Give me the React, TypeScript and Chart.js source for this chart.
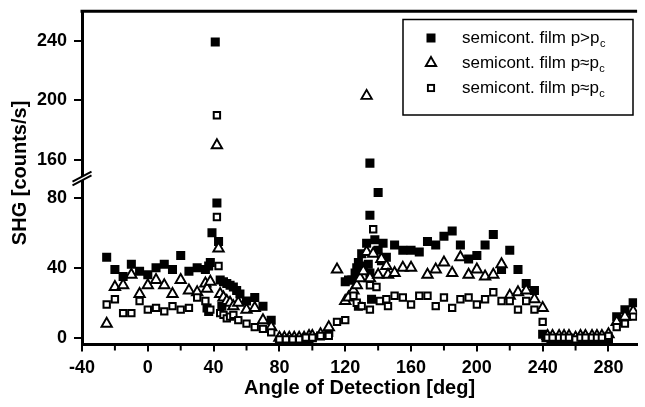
import React, { useEffect, useRef } from 'react';
import { Chart, registerables } from 'chart.js';

Chart.register(...registerables);

const FONT = '"Liberation Sans", Arial, Helvetica, sans-serif';

// ---- axis ticks ----
const xTicks = [-40, 0, 40, 80, 120, 160, 200, 240, 280];
const xMinorTicks = [-20, 20, 60, 100, 140, 180, 220, 260];
const yLowTicks = [0, 40, 80];
const yHighTicks = [160, 200, 240];
const BREAK_AT = 120; // values above the break are drawn on the upper axis segment

// ---- legend ----
const legendLabels = ['semicont. film p>p', 'semicont. film p\u2248p', 'semicont. film p\u2248p'];
const legendSub = 'c';

// ---- series: semicont. film p>pc (filled squares) ----
const filledAngles = [
  -25, -20, -15, -10, -5, 0, 5, 10, 15, 20, 25, 30, 35, 36, 37, 37, 38, 39, 41, 42, 43, 44, 45, 46, 48, 50,
  52, 54, 56, 60, 65, 70, 75, 80, 82, 84, 86, 88, 90, 92, 95, 98, 100, 105, 110, 120, 122, 124, 126, 127,
  128, 128, 130, 131, 133, 134, 135, 135, 135, 136, 138, 140, 140, 142, 143, 145, 150, 155, 160, 165, 170,
  175, 180, 185, 190, 195, 200, 205, 210, 215, 220, 225, 230, 235, 240, 242, 245, 248, 250, 253, 255, 258,
  260, 263, 265, 268, 270, 273, 275, 278, 280, 285, 290, 295,
];
const filledSHG = [
  46, 39, 35, 42, 38, 36, 40, 42, 39, 47, 38, 40, 39, 17, 41, 15, 43, 60, 239, 77, 55, 33, 18, 32, 31, 30,
  29, 27, 25, 21, 23, 18, 10, -2, -1, -2, -1, -2, -1, -1, -1, -1, 0, 1, 3, 32, 33, 33, 37, 40,
  43, 18, 48, 41, 54, 42, 37, 70, 158, 22, 56, 83, 50, 44, 54, 46, 53, 50, 50, 49, 55,
  53, 58, 61, 53, 45, 47, 53, 59, 39, 50, 39, 31, 27, 2, 0, -1, -1, -1, -1, -1, -1,
  -2, -1, -1, -1, -2, -1, -1, -1, -1, 12, 16, 20,
];

// ---- series: semicont. film p≈pc (open triangles) ----
const triAngles = [
  -25, -20, -15, -10, -5, 0, 5, 10, 15, 20, 25, 30, 35, 36, 38, 42, 43, 44, 46, 48, 50, 52, 55, 60, 65, 70,
  75, 80, 83, 86, 89, 92, 95, 98, 100, 105, 110, 115, 120, 122, 125, 127, 129, 131, 133, 133, 135, 137,
  140, 142, 145, 146, 150, 155, 160, 170, 175, 180, 185, 190, 195, 200, 205, 210, 215, 220, 225, 230, 235,
  240, 243, 246, 250, 253, 256, 260, 263, 266, 270, 273, 276, 280, 285, 290, 295,
];
const triSHG = [
  8, 29, 30, 36, 25, 30, 33, 30, 25, 33, 27, 26, 31, 28, 32, 170, 51, 25, 23, 21, 20, 18, 20, 16, 17, 10,
  6, 0, 0, 0, 0, 0, 0, 1, 1, 2, 6, 39, 21, 23, 27, 30, 34, 38, 49, 203, 34, 48,
  36, 45, 41, 36, 37, 40, 40, 36, 39, 43, 37, 46, 36, 39, 35, 36, 42, 24, 26, 27, 22,
  17, 1, 1, 1, 1, 1, 0, 1, 1, 1, 1, 1, 2, 9, 12, 15,
];

// ---- series: semicont. film p≈pc (open squares) ----
const openAngles = [
  -25, -20, -15, -10, -5, 0, 5, 10, 15, 20, 25, 30, 35, 38, 42, 42, 43, 44, 46, 48, 50, 52, 55, 60, 65, 70,
  75, 80, 84, 88, 92, 96, 100, 105, 110, 115, 120, 125, 127, 130, 135, 135, 137, 139, 141, 145, 146, 150,
  155, 160, 165, 170, 175, 180, 185, 190, 195, 200, 205, 210, 215, 220, 225, 230, 235, 240, 243, 246, 250,
  253, 256, 260, 263, 266, 270, 273, 276, 280, 285, 290, 295,
];
const openSHG = [
  19, 22, 14, 14, 21, 16, 17, 15, 18, 16, 17, 23, 21, 16, 190, 69, 41, 14, 13, 11, 12, 13, 10, 8, 6, 5,
  3, -1, -1, -1, -1, 0, 0, 1, 1, 9, 10, 24, 20, 18, 16, 30, 62, 29, 21, 22, 18, 24,
  23, 19, 24, 24, 18, 23, 17, 22, 23, 19, 22, 26, 21, 21, 16, 21, 16, 9, 0, 0, 0,
  0, 0, -1, 0, 0, 0, 0, 0, 1, 6, 8, 12,
];

const split = (xs: number[], ys: number[], high: boolean) =>
  xs
    .map((x, i) => ({ x, y: ys[i] }))
    .filter((p) => (high ? p.y > BREAK_AT : p.y <= BREAK_AT));

const decorPlugin = {
  id: 'decor',
  afterDraw(chart: any) {
    const ctx = chart.ctx as CanvasRenderingContext2D;
    const area = chart.chartArea;
    const xs = chart.scales.x;
    const yLow = chart.scales.y;
    ctx.save();
    ctx.strokeStyle = '#000';
    ctx.fillStyle = '#000';

    // top frame line
    ctx.lineWidth = 3;
    ctx.beginPath();
    ctx.moveTo(area.left - 1.5, area.top);
    ctx.lineTo(area.right, area.top);
    ctx.stroke();

    // minor x ticks
    ctx.lineWidth = 2;
    xMinorTicks.forEach((v) => {
      const px = xs.getPixelForValue(v);
      ctx.beginPath();
      ctx.moveTo(px, area.bottom + 1.5);
      ctx.lineTo(px, area.bottom + 6);
      ctx.stroke();
    });

    // axis break marks
    const cx = area.left;
    const cy = yLow.top;
    const dx = 9.5;
    const dy = 5;
    const g = 1.9;
    ctx.fillStyle = '#fff';
    ctx.beginPath();
    ctx.moveTo(cx - dx, cy - g + dy);
    ctx.lineTo(cx + dx, cy - g - dy);
    ctx.lineTo(cx + dx, cy + g - dy);
    ctx.lineTo(cx - dx, cy + g + dy);
    ctx.closePath();
    ctx.fill();
    ctx.lineWidth = 2;
    [-g, g].forEach((o) => {
      ctx.beginPath();
      ctx.moveTo(cx - dx, cy + o + dy);
      ctx.lineTo(cx + dx, cy + o - dy);
      ctx.stroke();
    });

    // y axis title
    ctx.fillStyle = '#000';
    ctx.save();
    ctx.translate(20, (area.top + area.bottom) / 2 - 5);
    ctx.rotate(-Math.PI / 2);
    ctx.textAlign = 'center';
    ctx.textBaseline = 'middle';
    ctx.font = `bold 20px ${FONT}`;
    ctx.fillText('SHG [counts/s]', 0, 0);
    ctx.restore();

    // legend box
    const bx = 403;
    const by = 19.5;
    const bw = 230;
    const bh = 95.5;
    ctx.fillStyle = '#fff';
    ctx.fillRect(bx, by, bw, bh);
    ctx.lineWidth = 1.5;
    ctx.strokeRect(bx, by, bw, bh);
    const rows = [38, 63, 88];
    const mx = 431;
    rows.forEach((ry, i) => {
      ctx.fillStyle = '#000';
      ctx.lineWidth = 1.9;
      if (i === 0) {
        ctx.fillRect(mx - 4.5, ry - 4.5, 9, 9);
      } else if (i === 1) {
        const r = 6;
        ctx.fillStyle = '#fff';
        ctx.beginPath();
        ctx.moveTo(mx, ry - r);
        ctx.lineTo(mx + r * 0.866, ry + r * 0.5);
        ctx.lineTo(mx - r * 0.866, ry + r * 0.5);
        ctx.closePath();
        ctx.fill();
        ctx.stroke();
      } else {
        ctx.fillStyle = '#fff';
        ctx.fillRect(mx - 3.1, ry - 3.1, 6.2, 6.2);
        ctx.strokeRect(mx - 3.1, ry - 3.1, 6.2, 6.2);
      }
      ctx.fillStyle = '#000';
      ctx.font = `17px ${FONT}`;
      ctx.textAlign = 'left';
      ctx.textBaseline = 'middle';
      const tx = 462;
      ctx.fillText(legendLabels[i], tx, ry);
      const w = ctx.measureText(legendLabels[i]).width;
      ctx.font = `11px ${FONT}`;
      ctx.fillText(legendSub, tx + w + 0.5, ry + 6);
    });
    ctx.restore();
  },
};

const tickFont = { family: FONT, size: 18, weight: 'bold' as const };

const yAxis = (min: number, max: number, weight: number, ticks: number[]) => ({
  type: 'linear' as const,
  position: 'left' as const,
  stack: 'shg',
  stackWeight: weight,
  min,
  max,
  afterBuildTicks: (s: any) => {
    s.ticks = ticks.map((v) => ({ value: v }));
  },
  afterFit: (s: any) => {
    s.width = 82;
    s.paddingTop = 0;
    s.paddingBottom = 0;
  },
  border: { display: true, color: '#000', width: 3 },
  grid: { display: true, drawOnChartArea: false, drawTicks: true, tickLength: 8, color: '#000', lineWidth: 2 },
  ticks: { color: '#000', font: tickFont, padding: 7 },
});

export default function App() {
  const ref = useRef<HTMLCanvasElement | null>(null);

  useEffect(() => {
    if (!ref.current) return;
    const filledStyle = {
      pointStyle: 'rect',
      pointRadius: 6.4,
      pointHoverRadius: 6.4,
      backgroundColor: '#000',
      borderColor: '#000',
      borderWidth: 0,
      order: 3,
    };
    const triStyle = {
      pointStyle: 'triangle',
      pointRadius: 6.0,
      pointHoverRadius: 6.0,
      backgroundColor: '#fff',
      borderColor: '#000',
      borderWidth: 1.9,
      order: 2,
    };
    const openStyle = {
      pointStyle: 'rect',
      pointRadius: 4.5,
      pointHoverRadius: 4.5,
      backgroundColor: '#fff',
      borderColor: '#000',
      borderWidth: 2,
      order: 1,
    };
    const chart = new Chart(ref.current, {
      type: 'scatter',
      data: {
        datasets: [
          { label: legendLabels[0], data: split(filledAngles, filledSHG, false), yAxisID: 'y', ...filledStyle },
          { label: legendLabels[0], data: split(filledAngles, filledSHG, true), yAxisID: 'yTop', ...filledStyle },
          { label: legendLabels[1], data: split(triAngles, triSHG, false), yAxisID: 'y', ...triStyle },
          { label: legendLabels[1], data: split(triAngles, triSHG, true), yAxisID: 'yTop', ...triStyle },
          { label: legendLabels[2], data: split(openAngles, openSHG, false), yAxisID: 'y', ...openStyle },
          { label: legendLabels[2], data: split(openAngles, openSHG, true), yAxisID: 'yTop', ...openStyle },
        ] as any,
      },
      options: {
        responsive: false,
        animation: false,
        devicePixelRatio: 1,
        layout: { padding: { top: 11.3, left: 0, right: 0, bottom: 0 } },
        plugins: { legend: { display: false }, tooltip: { enabled: false }, title: { display: false } },
        scales: {
          x: {
            type: 'linear',
            position: 'bottom',
            min: -40,
            max: 297.4,
            afterBuildTicks: (s: any) => {
              s.ticks = xTicks.map((v) => ({ value: v }));
            },
            afterFit: (s: any) => {
              s.height = 62.5;
            },
            border: { display: true, color: '#000', width: 3 },
            grid: { display: true, drawOnChartArea: false, drawTicks: true, tickLength: 7, color: '#000', lineWidth: 2 },
            ticks: { color: '#000', font: tickFont, padding: 6, maxRotation: 0, autoSkip: false },
            title: {
              display: true,
              text: 'Angle of Detection [deg]',
              color: '#000',
              font: { family: FONT, size: 20, weight: 'bold' },
              padding: { top: 0, bottom: 7 },
            },
          },
          y: yAxis(-3.9, 91, 166, yLowTicks),
          yTop: yAxis(147.7, 259.6, 167.2, yHighTicks),
        } as any,
      },
      plugins: [decorPlugin],
    });
    return () => chart.destroy();
  }, []);

  return (
    <div style={{ position: 'absolute', left: 0, top: 0, width: 645, height: 407, background: '#fff' }}>
      <canvas ref={ref} width={645} height={407} style={{ display: 'block' }} />
    </div>
  );
}
